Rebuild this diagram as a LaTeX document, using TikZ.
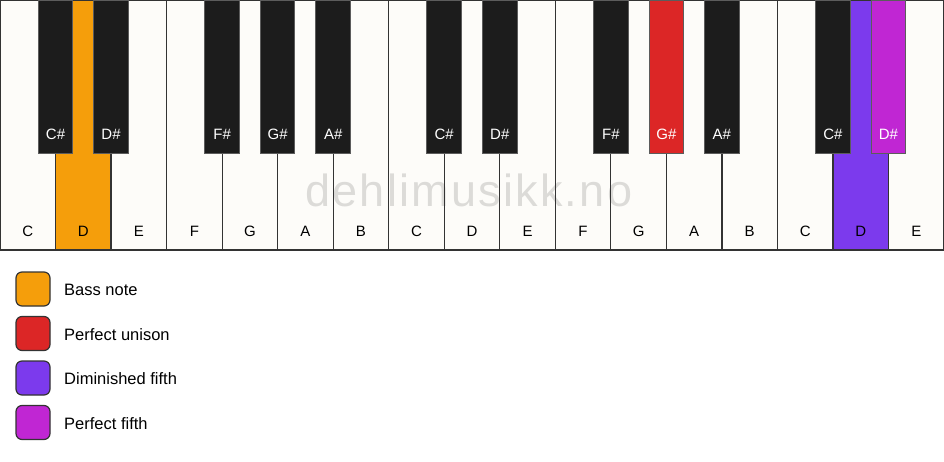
\documentclass[tikz,border=0pt]{standalone}
\usepackage{fontspec}
\setmainfont{Liberation Sans}
\newfontfamily\wmfont[LetterSpace=5]{Liberation Sans}
\definecolor{keywhite}{HTML}{FDFCF9}
\definecolor{keyblack}{HTML}{1C1C1C}
\definecolor{keyline}{HTML}{333333}
\definecolor{bassc}{HTML}{F59E0B}
\definecolor{unisonc}{HTML}{DC2626}
\definecolor{dimc}{HTML}{7C3AED}
\definecolor{fifthc}{HTML}{C026D3}
\tikzset{
  whitekey/.style={minimum width=55.53pt, minimum height=250pt, inner sep=0pt, outer sep=0pt},
  keyborder/.style={draw=keyline, line width=1.2pt},
  blackkey/.style={draw=keyline!80, line width=1pt, minimum width=34.5pt, minimum height=153pt, inner sep=0pt, outer sep=0pt},
  klabel/.style={font=\fontsize{15}{18}\selectfont, anchor=base, inner sep=0pt},
  legbox/.style={draw=keyline, line width=1.2pt, rounded corners=6pt, minimum width=34pt, minimum height=34pt, inner sep=0pt},
  legtext/.style={font=\fontsize{16.5}{20}\selectfont, anchor=base west, inner sep=0pt},
}
\begin{document}
\begin{tikzpicture}[x=1pt,y=-1pt]
\useasboundingbox (0,0) rectangle (944,461);
\fill[white] (0,0) rectangle (944,461);
\def\W{55.53}
% white keys (fills)
\foreach \i/\c in {0/keywhite,1/bassc,2/keywhite,3/keywhite,4/keywhite,5/keywhite,6/keywhite,7/keywhite,8/keywhite,9/keywhite,10/keywhite,11/keywhite,12/keywhite,13/keywhite,14/keywhite,15/dimc,16/keywhite}{
  \node[whitekey, fill=\c] (w\i) at ({(\i+0.5)*\W},125) {};
}
% watermark
\node[anchor=base west, inner sep=0pt, text=black, text opacity=0.13, font=\wmfont\fontsize{45}{54}\selectfont] (wm) at (305,206) {dehlimusikk.no};
% white key borders and labels
\foreach \i/\n in {0/C,1/D,2/E,3/F,4/G,5/A,6/B,7/C,8/D,9/E,10/F,11/G,12/A,13/B,14/C,15/D,16/E}{
  \draw[keyborder] (w\i.north west) rectangle (w\i.south east);
  \node[klabel] (wl\i) at ({(\i+0.5)*\W},236) {\n};
}
% black keys
\foreach \b/\n/\c in {1/C\#/keyblack,2/D\#/keyblack,4/F\#/keyblack,5/G\#/keyblack,6/A\#/keyblack,8/C\#/keyblack,9/D\#/keyblack,11/F\#/keyblack,12/G\#/unisonc,13/A\#/keyblack,15/C\#/keyblack,16/D\#/fifthc}{
  \node[blackkey, fill=\c] (b\b) at ({\b*\W},76.5) {};
  \node[klabel, text=white] (bl\b) at ({\b*\W},139) {\n};
}
% legend
\foreach \k/\c/\t in {0/bassc/Bass note,1/unisonc/Perfect unison,2/dimc/Diminished fifth,3/fifthc/Perfect fifth}{
  \node[legbox, fill=\c] (lb\k) at (33,{289+44.5*\k}) {};
  \node[legtext] (lt\k) at (64,{295.7+44.5*\k}) {\t};
}
\end{tikzpicture}
\end{document}
